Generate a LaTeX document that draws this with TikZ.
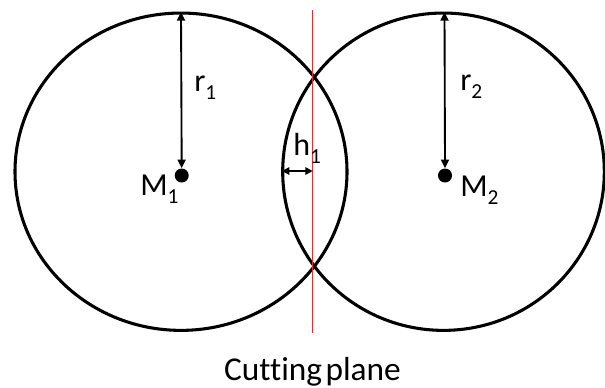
\documentclass[tikz,border=0pt]{standalone}
\usepackage{fontspec}
\setmainfont{Carlito}[Ligatures=NoCommon]
\usetikzlibrary{arrows.meta}
\newcommand{\lbl}[2]{#1\raisebox{-0.28em}{\fontsize{16}{16}\selectfont #2}}
\tikzset{
  ring/.style={line width=2.3pt, black},
  dimarrow/.style={line width=1.4pt, {Triangle[length=6.5pt,width=6pt]}-{Triangle[length=6.5pt,width=6pt]}},
  cutline/.style={line width=0.8pt, color=cutred},
  lab/.style={font=\fontsize{24}{24}\selectfont, inner sep=0pt, anchor=base west, text=black},
  dotc/.style={circle, fill=black, inner sep=0pt, minimum size=10.5pt}
}
\definecolor{cutred}{RGB}{240,40,40}
\begin{document}
\begin{tikzpicture}[x=0.75pt,y=-0.75pt]
\useasboundingbox (0,0) rectangle (605,387);
% centres
\coordinate (C1) at (181,171.7);
\coordinate (C2) at (443.5,171.7);
\draw[ring] (C1) ellipse [x radius=124.5pt, y radius=119pt];
\draw[ring] (C2) ellipse [x radius=120.6pt, y radius=119pt];
% cutting plane
\coordinate (P1) at (312.7,10);
\coordinate (P2) at (312.7,333);
\draw[cutline] (P1) -- (P2);
% centre dots
\node[dotc] (M1) at (181.7,175.5) {};
\node[dotc] (M2) at (445,175.5) {};
% radii
\coordinate (T1) at (181,12);
\coordinate (T2) at (444.5,12);
\draw[dimarrow] (T1) -- (M1.north);
\draw[dimarrow] (T2) -- (M2.north);
% h1
\coordinate (H1a) at (282,171);
\coordinate (H1b) at (312.7,171);
\draw[dimarrow, {Triangle[length=5.5pt,width=5.5pt]}-{Triangle[length=5.5pt,width=5.5pt]}] (H1a) -- (H1b);
% labels
\node[lab] (r1) at (194,91) {\lbl{r}{1}};
\node[lab] (r2) at (460,90) {\lbl{r}{2}};
\node[lab] (m1) at (140,195) {\lbl{M}{1}};
\node[lab] (m2) at (460,196) {\lbl{M}{2}};
\node[lab] (h1) at (293,155) {\lbl{h}{1}};
\node[inner sep=0pt, anchor=base, font=\fontsize{25}{25}\selectfont] (cp) at (312.5,380) {Cutting\hspace{-0.12em} plane};
\end{tikzpicture}
\end{document}
